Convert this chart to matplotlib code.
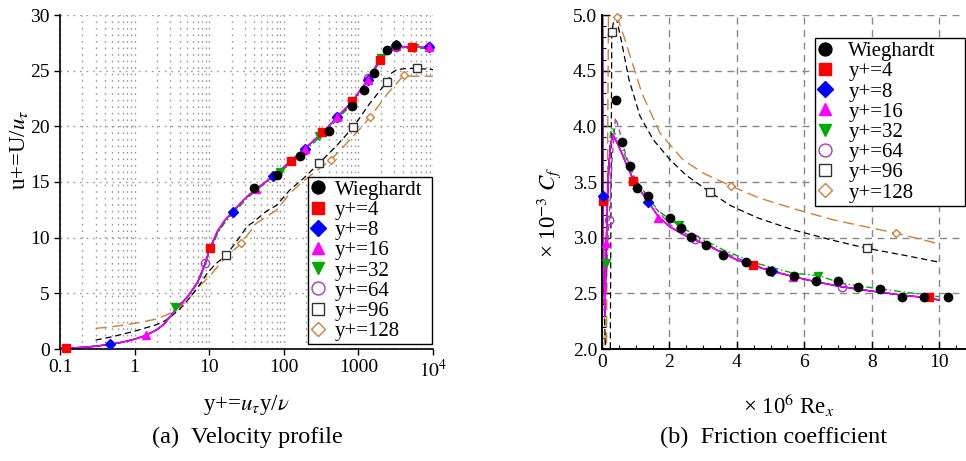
import matplotlib
matplotlib.use("Agg")
import matplotlib.pyplot as plt
from matplotlib.lines import Line2D
from matplotlib.ticker import MultipleLocator, FormatStrFormatter, LogLocator, NullFormatter

plt.rcParams['font.family'] = ['Liberation Serif', 'DejaVu Serif']
plt.rcParams['mathtext.fontset'] = 'stix'

# ---------------- (a) velocity profile ----------------
labels = ['Wieghardt', 'y+=4', 'y+=8', 'y+=16', 'y+=32', 'y+=64', 'y+=96', 'y+=128']

wie_yp = [40, 81, 165, 404, 820, 1189, 1617, 2414, 3190]
wie_up = [14.5, 15.6, 17.3, 19.6, 21.8, 23.3, 24.8, 26.9, 27.3]

yp_main = [0.1, 0.15, 0.2, 0.3, 0.47, 0.7, 1.0, 1.4, 2.0, 2.5, 3.0, 3.6, 5.0, 7.0, 8.5, 10.3, 13, 16, 21,
           30, 43, 72, 125, 192, 325, 516, 820, 1345, 1950, 2500, 3000, 3500, 5000, 7000, 10000]
up_main = [0.06, 0.1, 0.15, 0.25, 0.42, 0.62, 0.88, 1.2, 1.75, 2.25, 2.9, 3.6, 4.6, 6.0, 7.4, 9.1, 10.6, 11.5, 12.4,
           13.5, 14.4, 15.5, 16.9, 18.0, 19.4, 20.8, 22.2, 24.2, 26.0, 26.9, 27.25, 27.2, 27.1, 27.1, 27.1]
up_32 = [0.06, 0.1, 0.15, 0.25, 0.42, 0.62, 0.88, 1.2, 1.75, 2.3, 3.0, 3.7, 4.6, 5.9, 7.2, 8.8, 10.4, 11.3, 12.2,
         13.3, 14.3, 15.4, 16.7, 17.8, 19.2, 20.6, 22.0, 24.0, 25.9, 26.8, 27.1, 27.1, 27.0, 27.0, 27.0]

yp_96 = [0.3, 0.5, 1, 2, 2.5, 3.2, 4.5, 7, 9.4, 12, 16.8, 26, 32, 39, 59, 80, 121, 182, 299, 500, 847,
         1400, 2000, 2414, 2800, 3300, 4500, 6110, 10000]
up_96 = [0.8, 1.1, 1.6, 2.2, 2.5, 3.0, 3.9, 5.5, 6.8, 7.6, 8.4, 10.1, 11.0, 11.4, 12.4, 12.9, 14.3, 15.3, 16.7,
         18.2, 19.9, 22.0, 23.3, 24.0, 24.8, 25.1, 25.2, 25.2, 25.1]

yp_128 = [0.3, 0.5, 1, 2, 3, 4, 5, 7, 10, 15, 20, 27, 43, 81, 121, 200, 430, 800, 1430, 2500, 4080, 5000, 10000]
up_128 = [1.85, 2.0, 2.3, 2.7, 3.2, 3.8, 4.3, 5.5, 6.5, 7.9, 8.7, 9.5, 11.3, 12.5, 14.0, 15.3, 17.0, 18.9,
          20.8, 23.0, 24.6, 24.5, 24.5]

# marker positions along each profile
m4_yp = [0.12, 10.3, 125, 325, 820, 1950, 5230]
m4_up = [0.1, 9.1, 16.9, 19.5, 22.3, 26.0, 27.1]
m8_yp = [0.47, 21, 72, 192, 516, 1345, 3190, 8840]
m8_up = [0.45, 12.3, 15.5, 18.0, 20.8, 24.2, 27.3, 27.1]
m16_yp = [1.4, 43, 195, 516, 1345, 3200, 8840]
m16_up = [1.3, 14.4, 18.0, 20.8, 24.2, 27.2, 27.1]
m32_yp = [3.5, 88, 297, 2030, 5500]
m32_up = [3.8, 15.9, 19.1, 26.1, 27.0]
m64_yp = [8.7, 190, 516, 1345, 3200, 8840]
m64_up = [7.7, 17.9, 20.8, 24.3, 27.1, 27.1]
m96_yp = [16.8, 296, 847, 2414, 6110]
m96_up = [8.4, 16.7, 19.9, 24.0, 25.2]
m128_yp = [27, 430, 1430, 4080]
m128_up = [9.5, 17.0, 20.8, 24.6]

# ---------------- (b) friction coefficient ----------------
wie_re = [0.41, 0.60, 0.83, 1.05, 1.35, 2.02, 2.34, 2.64, 3.08, 3.6, 4.27, 4.98, 5.7, 6.34, 6.99, 7.61,
          8.26, 8.91, 9.56, 10.26]
wie_cf = [4.24, 3.86, 3.64, 3.45, 3.37, 3.175, 3.085, 3.01, 2.935, 2.84, 2.785, 2.70, 2.66, 2.61, 2.61,
          2.56, 2.54, 2.47, 2.47, 2.465]

re_main = [0.003, 0.01, 0.025, 0.05, 0.09, 0.12, 0.18, 0.24, 0.32, 0.45, 0.6, 0.75, 0.93, 1.15, 1.35, 1.67,
           2.0, 2.4, 2.76, 3.2, 3.6, 4.0, 4.47, 5.03, 5.68, 6.4, 7.11, 8.0, 9.0, 9.71, 10.0]
cf_main = [8.0, 5.5, 3.35, 2.7, 2.3, 2.9, 3.5, 3.8, 3.93, 3.85, 3.75, 3.64, 3.52, 3.42, 3.33, 3.19,
           3.10, 3.03, 2.98, 2.92, 2.86, 2.80, 2.75, 2.70, 2.65, 2.60, 2.56, 2.52, 2.48, 2.46, 2.44]

re_32 = [0.003, 0.01, 0.025, 0.05, 0.08, 0.1, 0.12, 0.18, 0.24, 0.29, 0.4, 0.6, 0.93, 1.35, 1.67, 2.28,
         2.76, 3.6, 4.47, 5.68, 6.42, 7.11, 8.0, 9.0, 10.0]
cf_32 = [8.0, 5.5, 3.35, 2.7, 2.4, 2.5, 2.77, 3.5, 3.9, 4.0, 3.92, 3.8, 3.56, 3.37, 3.24, 3.11,
         3.02, 2.89, 2.78, 2.68, 2.66, 2.59, 2.55, 2.51, 2.47]

re_64 = [0.003, 0.01, 0.025, 0.05, 0.09, 0.15, 0.21, 0.3, 0.4, 0.5, 0.7, 0.93, 1.35, 2.0, 2.76, 3.6,
         4.47, 5.68, 7.11, 8.0, 9.0, 10.0]
cf_64 = [8.0, 5.5, 3.35, 2.7, 2.4, 2.8, 3.16, 3.7, 4.08, 3.98, 3.75, 3.56, 3.35, 3.12, 2.99, 2.87,
         2.76, 2.65, 2.555, 2.52, 2.48, 2.44]

re_96 = [0.003, 0.01, 0.025, 0.05, 0.1, 0.16, 0.24, 0.27, 0.29, 0.35, 0.43, 0.58, 0.8, 1.13, 1.52, 2.02,
         2.5, 3.2, 3.8, 4.6, 5.67, 6.8, 7.85, 9.0, 10.0]
cf_96 = [8.0, 5.5, 3.35, 2.6, 2.0, 1.7, 1.6, 3.5, 4.85, 4.95, 4.97, 4.76, 4.42, 4.09, 3.88, 3.70,
         3.56, 3.41, 3.29, 3.18, 3.07, 2.98, 2.905, 2.84, 2.78]

re_128 = [0.003, 0.01, 0.025, 0.05, 0.1, 0.13, 0.16, 0.2, 0.3, 0.4, 0.455, 0.68, 1.18, 1.72, 2.4, 3.0,
          3.82, 4.63, 5.8, 6.86, 8.72, 9.93]
cf_128 = [8.0, 5.5, 3.35, 2.6, 2.0, 1.8, 3.5, 5.3, 5.4, 5.1, 4.98, 4.78, 4.30, 3.94, 3.70, 3.58,
          3.465, 3.36, 3.25, 3.16, 3.04, 2.95]

c4_re = [0.02, 0.93, 4.47, 9.71]
c4_cf = [3.33, 3.51, 2.75, 2.465]
c8_re = [0.03, 1.35, 5.03]
c8_cf = [3.37, 3.32, 2.70]
c16_re = [0.12, 1.67, 5.68]
c16_cf = [2.95, 3.18, 2.65]
c32_re = [0.12, 2.28, 6.42]
c32_cf = [2.77, 3.11, 2.66]
c64_re = [0.21, 2.76, 7.11]
c64_cf = [3.16, 2.99, 2.555]
c96_re = [0.29, 3.2, 7.85]
c96_cf = [4.85, 3.41, 2.905]
c128_re = [0.455, 3.82, 8.72]
c128_cf = [4.98, 3.465, 3.04]

# styles
RED, BLUE, MAG, GRN, PUR, ORG = '#ff0000', '#0000ff', '#ff00ff', '#00aa00', '#a040b0', '#c8823c'
mk = [dict(marker='o', color='black', mfc='black', ms=6),
      dict(marker='s', color=RED, mfc=RED, ms=5.5),
      dict(marker='D', color=BLUE, mfc=BLUE, ms=5),
      dict(marker='^', color=MAG, mfc=MAG, ms=6),
      dict(marker='v', color=GRN, mfc=GRN, ms=6),
      dict(marker='o', color=PUR, mfc='none', ms=6),
      dict(marker='s', color='#333333', mfc='white', ms=5.5),
      dict(marker='D', color=ORG, mfc='white', ms=4.5)]
ls = [dict(color=RED, ls='-', lw=1.0),
      dict(color=BLUE, ls='-', lw=1.0),
      dict(color=MAG, ls='-', lw=1.0),
      dict(color=GRN, ls=(0, (5, 2, 1, 2)), lw=1.0),
      dict(color=PUR, ls=(0, (4, 3)), lw=1.0),
      dict(color='black', ls=(0, (5, 3)), lw=0.9),
      dict(color=ORG, ls=(0, (8, 4)), lw=1.0)]


def legend_handles():
    hs = []
    for m in mk:
        d = dict(m)
        d['ms'] = d['ms'] * 1.55
        hs.append(Line2D([], [], ls='none', mew=1.0, **d))
    return hs


fig = plt.figure(figsize=(9.66, 4.61), dpi=100)
ax1 = fig.add_axes([60 / 966, 112 / 461, 373 / 966, 334 / 461])
ax2 = fig.add_axes([602 / 966, 112 / 461, 363 / 966, 334 / 461])

# ---- left panel
ax1.set_xscale('log')
lines_a = [(yp_main, up_main), (yp_main, up_main), (yp_main, up_main), (yp_main, up_32),
           (yp_main, up_main), (yp_96, up_96), (yp_128, up_128)]
marks_a = [(m4_yp, m4_up), (m8_yp, m8_up), (m16_yp, m16_up), (m32_yp, m32_up),
           (m64_yp, m64_up), (m96_yp, m96_up), (m128_yp, m128_up)]
for i in [6, 5, 4, 3, 0, 1, 2]:
    ax1.plot(lines_a[i][0], lines_a[i][1], **ls[i])
for i in [6, 5, 4, 3, 0, 1, 2]:
    ax1.plot(marks_a[i][0], marks_a[i][1], ls='none', clip_on=False, zorder=4, **mk[i + 1])
ax1.plot(wie_yp, wie_up, ls='none', zorder=5, **mk[0])

ax1.set_xlim(0.1, 1e4)
ax1.set_ylim(0, 30)
ax1.set_xticks([0.1, 1, 10, 100, 1000, 1e4])
ax1.set_xticklabels(['0.1', '1', '10', '100', '1000', '$10^4$'])
ax1.xaxis.set_minor_locator(LogLocator(base=10, subs=range(2, 10)))
ax1.xaxis.set_minor_formatter(NullFormatter())
ax1.set_yticks(range(0, 31, 5))
ax1.grid(which='both', axis='x', ls=(0, (1.2, 3.5)), color='#999999', lw=1.0)
ax1.grid(which='major', axis='y', ls=(0, (1.2, 3.5)), color='#999999', lw=1.0)
ax1.tick_params(which='major', direction='out', length=4, labelsize=14, width=1)
ax1.tick_params(which='minor', length=0)
ax1.spines['top'].set_visible(False)
ax1.spines['right'].set_visible(False)
for s in ['left', 'bottom']:
    ax1.spines[s].set_linewidth(1.2)
leg1 = ax1.legend(legend_handles(), labels, loc='upper left', bbox_to_anchor=(0.665, 0.018, 0.332, 0.497),
                  mode='expand', fontsize=15, frameon=True, fancybox=False, edgecolor='black',
                  framealpha=1, borderpad=0.15, labelspacing=0.03, handletextpad=0.45, handlelength=0.7,
                  borderaxespad=0)
leg1.get_frame().set_linewidth(1.0)

# ---- right panel
lines_b = [(re_main, cf_main), (re_main, cf_main), (re_main, cf_main), (re_32, cf_32),
           (re_64, cf_64), (re_96, cf_96), (re_128, cf_128)]
marks_b = [(c4_re, c4_cf), (c8_re, c8_cf), (c16_re, c16_cf), (c32_re, c32_cf),
           (c64_re, c64_cf), (c96_re, c96_cf), (c128_re, c128_cf)]
for i in [6, 5, 4, 3, 0, 1, 2]:
    ax2.plot(lines_b[i][0], lines_b[i][1], **ls[i])
for i in [6, 5, 4, 3, 0, 1, 2]:
    ax2.plot(marks_b[i][0], marks_b[i][1], ls='none', clip_on=False, zorder=4, **mk[i + 1])
ax2.plot(wie_re, wie_cf, ls='none', zorder=5, clip_on=False, **mk[0])

ax2.set_xlim(0, 10.77)
ax2.set_ylim(2.0, 5.0)
ax2.set_xticks(range(0, 11, 2))
ax2.xaxis.set_minor_locator(MultipleLocator(0.5))
ax2.set_yticks([2.0, 2.5, 3.0, 3.5, 4.0, 4.5, 5.0])
ax2.yaxis.set_minor_locator(MultipleLocator(0.1))
ax2.yaxis.set_major_formatter(FormatStrFormatter('%.1f'))
ax2.grid(which='major', ls=(0, (5, 4)), color='#888888', lw=1.0)
ax2.tick_params(which='major', direction='in', length=6, labelsize=14, width=1)
ax2.tick_params(which='minor', direction='in', length=3, width=0.8)
ax2.spines['top'].set_visible(False)
ax2.spines['right'].set_visible(False)
for s in ['left', 'bottom']:
    ax2.spines[s].set_linewidth(1.4)
leg2 = ax2.legend(legend_handles(), labels, loc='upper left', bbox_to_anchor=(0.587, 0.43, 0.413, 0.5),
                  mode='expand', fontsize=15, frameon=True, fancybox=False, edgecolor='black',
                  framealpha=1, borderpad=0.15, labelspacing=0.03, handletextpad=0.74, handlelength=0.7,
                  borderaxespad=0)
leg2.get_frame().set_linewidth(1.0)

# ---- axis labels and captions
fig.text(246 / 966, 1 - 405 / 461, 'y+=$u_\\tau$y/$\\nu$', ha='center', va='center', fontsize=16.5)
fig.text(19 / 966, 1 - 150 / 461, 'u+=U/$u_\\tau$', ha='center', va='center', rotation=90, fontsize=16.5)
fig.text(789 / 966, 1 - 405 / 461, '\u00d7 10$^6$ Re$_x$', ha='center', va='center', fontsize=16.5)
fig.text(549 / 966, 1 - 212 / 461, '\u00d7 10$^{-3}$ $C_f$', ha='center', va='center', rotation=90,
         fontsize=16.5)
fig.text(247 / 966, 1 - 437 / 461, '(a)  Velocity profile', ha='center', va='center', fontsize=17.5)
fig.text(774 / 966, 1 - 437 / 461, '(b)  Friction coefficient', ha='center', va='center', fontsize=17.5)

fig.savefig('out.png', dpi=100)
